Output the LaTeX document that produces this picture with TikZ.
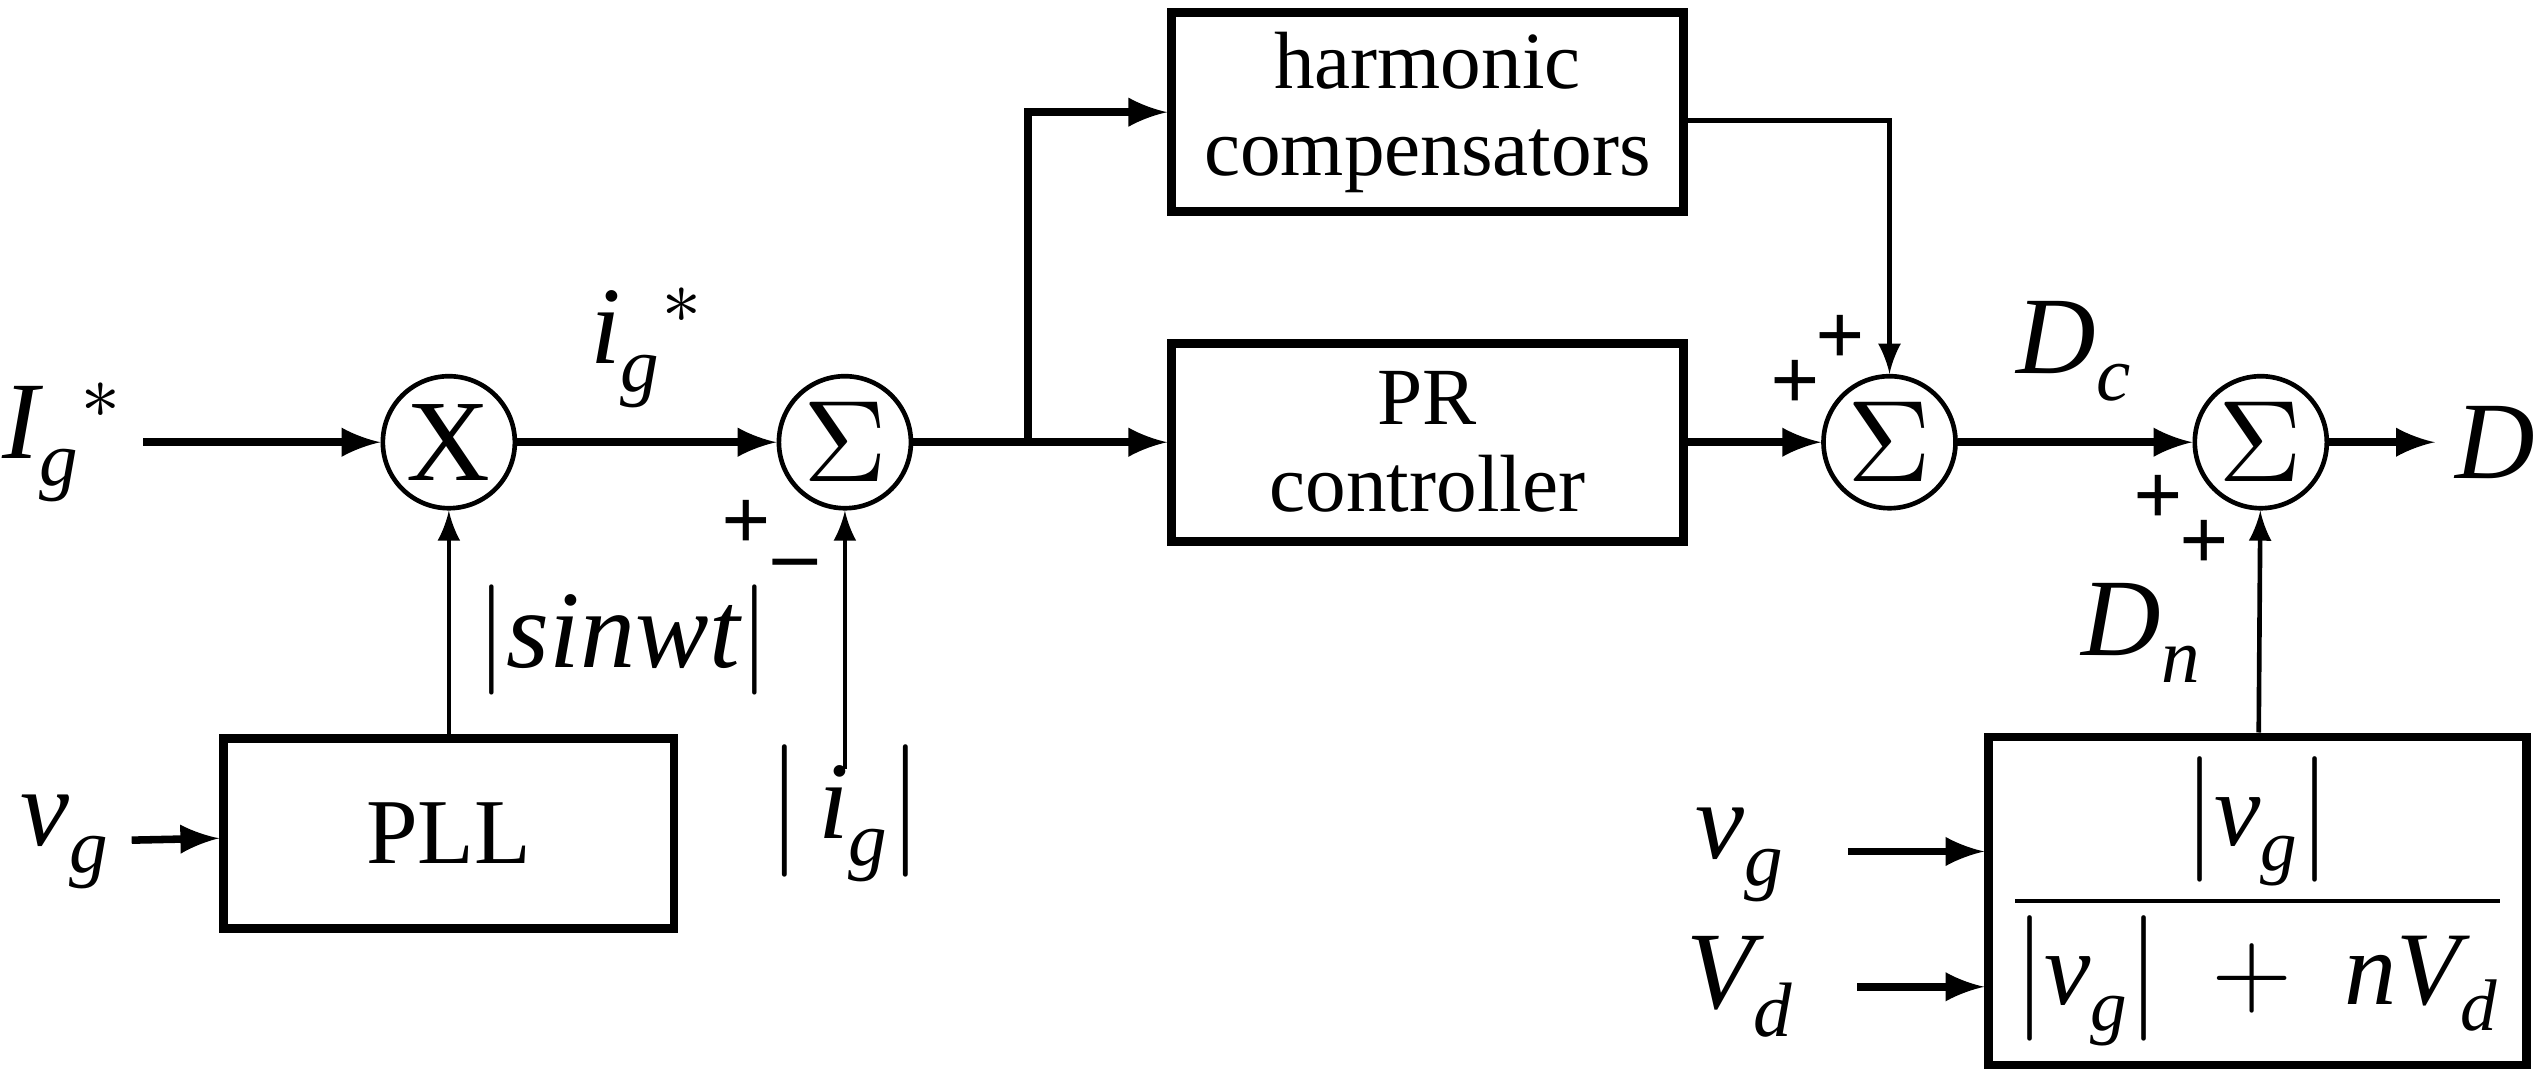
\documentclass[tikz,border=0pt]{standalone}
\usepackage{fontspec}
\setmainfont{Liberation Serif}
\usepackage{unicode-math}
\setmathfont{Latin Modern Math}
\setmathfont[range=it/{Latin,latin}]{Liberation Serif Italic}
\usepackage{tikz}
\usetikzlibrary{positioning}
\tikzset{
  % blocks of the controller
  blk/.style={draw, line width=1.5pt, minimum width=3.1cm, minimum height=1.2cm, align=center, font=\fontsize{14}{15}\selectfont},
  % summing and product junctions
  jct/.style={draw, circle, line width=0.8pt, minimum size=0.8cm, inner sep=0pt, font=\fontsize{20}{20}\selectfont},
  % signal lines
  sig/.style={line width=1.3pt, -latex},
  thin/.style={line width=0.8pt, -latex},
  lbl/.style={font=\fontsize{19}{19}\selectfont},
  sgn/.style={font=\bfseries\fontsize{15}{15}\selectfont, inner sep=0pt}
}
\begin{document}
\begin{tikzpicture}
  \useasboundingbox (0,0) rectangle (15.41,6.48);

  % junctions on the main line
  \node[jct] (mul) at (2.72,3.8) {X};
  \node[jct] (sum1) at (5.12,3.8) {$\Sigma$};
  \node[jct] (sum2) at (11.45,3.8) {$\Sigma$};
  \node[jct] (sum3) at (13.7,3.8) {$\Sigma$};

  % blocks
  \node[blk, minimum width=2.73cm, minimum height=1.15cm, font=\fontsize{16}{16}\selectfont] (pll) at (2.72,1.43) {PLL};
  \node[blk] (harm) at (8.65,5.8) {harmonic\\compensators};
  \node[blk] (pr) at (8.65,3.8) {PR\\controller};
  \node[blk, minimum width=3.05cm, minimum height=1.5cm, font=\fontsize{18}{18}\selectfont] (frac) at (13.68,1.02)
    {$\dfrac{\left|v_g\right|}{\left|v_g\right|\;+\;nV_d}$};

  % input and output labels
  \node[lbl] (Ig) at (0.38,3.8) {$I_g{}^{*}$};
  \node[lbl] (vg1) at (0.4,1.38) {$v_g$};
  \node[lbl] (vg2) at (10.55,1.3) {$v_g$};
  \node[lbl] (Vd) at (10.55,0.5) {$V_d$};
  \node[lbl] (D) at (15.12,3.8) {$D$};
  \node[lbl] (ig) at (5.12,1.55) {$\left|\,i_g\right|$};
  \coordinate (igtop) at (5.12,1.82);
  \coordinate (split) at (6.23,3.8);

  % main signal path
  \draw[sig] (Ig) -- (mul);
  \draw[sig] (mul) -- node[lbl, above=2pt] {$i_g{}^{*}$} (sum1);
  \draw[sig] (sum1) -- (pr);
  \draw[sig] (split) |- (harm);
  \draw[sig] (pr) -- (sum2);
  \draw[sig] (sum2) -- node[lbl, above=3pt] {$D_c$} (sum3);
  \draw[sig] (sum3) -- (D);
  \draw[thin] (harm.east |- 0,5.75) -| (sum2);

  % feedback and feedforward branches
  \draw[thin] (pll) -- node[lbl, right=1pt, pos=0.42] {$\left|sinwt\right|$} (mul);
  \draw[thin] (igtop) -- (sum1);
  \draw[thin] (frac) -- node[lbl, left=6pt, pos=0.45] {$D_n$} (sum3);
  \draw[sig] (vg1) -- (pll);
  \draw[sig] (vg2.east |- frac.west) ++(0.25,0.3) coordinate (a) -- (a -| frac.west);
  \draw[sig] (Vd.east) ++(0.25,0) coordinate (b) -- (b -| frac.west);

  % signs of the junctions
  \node[sgn] at (4.52,3.3) {+};
  \node[sgn] at (4.82,3.02) {--};
  \node[sgn] at (11.15,4.42) {+};
  \node[sgn] at (10.88,4.15) {+};
  \node[sgn] at (13.08,3.45) {+};
  \node[sgn] at (13.36,3.18) {+};
\end{tikzpicture}
\end{document}
